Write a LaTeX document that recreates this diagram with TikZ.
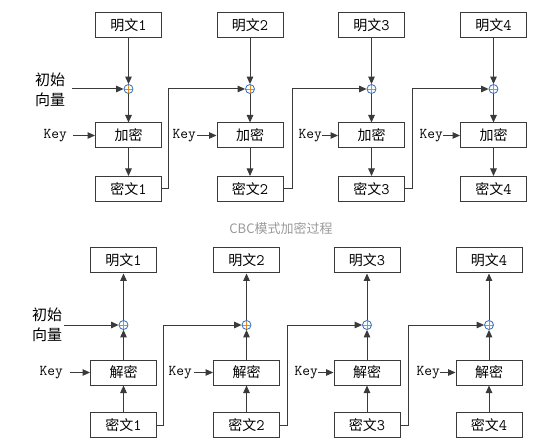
\documentclass[tikz,border=0pt]{standalone}
\usepackage{fontspec}
\newfontfamily\cjk{Noto Sans CJK SC}
\usetikzlibrary{arrows.meta}
\newcommand\zw[1]{{\cjk #1}}
\newcommand\dg[1]{{\fontsize{16}{16}\selectfont #1}}
\definecolor{linec}{HTML}{3A3A3A}
\definecolor{xorring}{HTML}{2F6FC0}
\definecolor{xorcross}{HTML}{E08A1E}
\definecolor{titlec}{HTML}{9A9A9A}
\begin{document}
\begin{tikzpicture}[x=1pt,y=-1pt,
  blk/.style={draw=linec, line width=1pt, minimum width=66pt, minimum height=25pt, inner sep=0pt, font=\fontsize{14}{16}\selectfont\ttfamily},
  xorn/.style={circle, draw=xorring, line width=0.8pt, minimum size=9pt, inner sep=0pt,
    path picture={\draw[xorcross, line width=0.8pt] (path picture bounding box.north) -- (path picture bounding box.south)
      (path picture bounding box.west) -- (path picture bounding box.east);}},
  arr/.style={draw=linec, line width=1pt, -{Triangle[length=7.5pt,width=6.5pt]}},
  keyt/.style={inner sep=0pt, font=\fontsize{15}{17}\selectfont\ttfamily},
  ivt/.style={inner sep=0pt, align=left, font=\fontsize{15}{20}\selectfont\cjk},
]
\useasboundingbox (0,0) rectangle (554,446);

% ---------- encryption ----------
\foreach \i/\x in {1/128.5,2/250,3/371.5,4/493.5}{
  \node[blk] (p\i) at (\x,25) {\zw{明文}\dg{\i}};
  \node[xorn] (x\i) at (\x,89) {};
  \node[blk] (e\i) at (\x,135.5) {\zw{加密}};
  \node[blk] (c\i) at (\x,189) {\zw{密文}\dg{\i}};
  \draw[arr] (p\i) -- (x\i);
  \draw[arr] (x\i) -- (e\i);
  \draw[arr] (e\i) -- (c\i);
}
\node[ivt] (iv) at (50,90) {初始\\向量};
\coordinate (ivs) at (72,89);
\draw[arr] (ivs) -- (x1);
\draw[arr] (c1.east) -- ++(6,0) |- (x2.west);
\draw[arr] (c2.east) -- ++(9,0) |- (x3.west);
\draw[arr] (c3.east) -- ++(7,0) |- (x4.west);

\node[keyt, anchor=east] (k1) at (67,135.5) {Key};
\node[keyt, anchor=east] (k2) at (196,135.5) {Key};
\node[keyt, anchor=east] (k3) at (322,135.5) {Key};
\node[keyt, anchor=east] (k4) at (443,135.5) {Key};
\draw[arr] ([xshift=6pt]k1.east) -- (e1.west);
\draw[arr] ([xshift=1pt]k2.east) -- (e2.west);
\draw[arr] (k3.east) -- (e3.west);
\draw[arr] (k4.east) -- (e4.west);

\node[font=\fontsize{13}{15}\selectfont\cjk, text=titlec] (title) at (281,229) {CBC模式加密过程};

% ---------- decryption ----------
\foreach \i/\x in {1/123.5,2/246.5,3/367,4/489}{
  \node[blk] (q\i) at (\x,260.5) {\zw{明文}\dg{\i}};
  \node[xorn] (y\i) at (\x,325) {};
  \node[blk] (d\i) at (\x,372.5) {\zw{解密}};
  \node[blk] (m\i) at (\x,425) {\zw{密文}\dg{\i}};
  \draw[arr] (m\i) -- (d\i);
  \draw[arr] (d\i) -- (y\i);
  \draw[arr] (y\i) -- (q\i);
}
\node[ivt] (iv2) at (47,325) {初始\\向量};
\coordinate (ivs2) at (64,325);
\draw[arr] (ivs2) -- (y1);
\draw[arr] (m1.east) -- ++(6,0) |- (y2.west);
\draw[arr] (m2.east) -- ++(7,0) |- (y3.west);
\draw[arr] (m3.east) -- ++(8,0) |- (y4.west);

\node[keyt, anchor=east] (l1) at (63,372.5) {Key};
\node[keyt, anchor=east] (l2) at (192,372.5) {Key};
\node[keyt, anchor=east] (l3) at (318,372.5) {Key};
\node[keyt, anchor=east] (l4) at (440,372.5) {Key};
\draw[arr] ([xshift=7pt]l1.east) -- (d1.west);
\draw[arr] ([xshift=2pt]l2.east) -- (d2.west);
\draw[arr] (l3.east) -- (d3.west);
\draw[arr] (l4.east) -- (d4.west);
\end{tikzpicture}
\end{document}
